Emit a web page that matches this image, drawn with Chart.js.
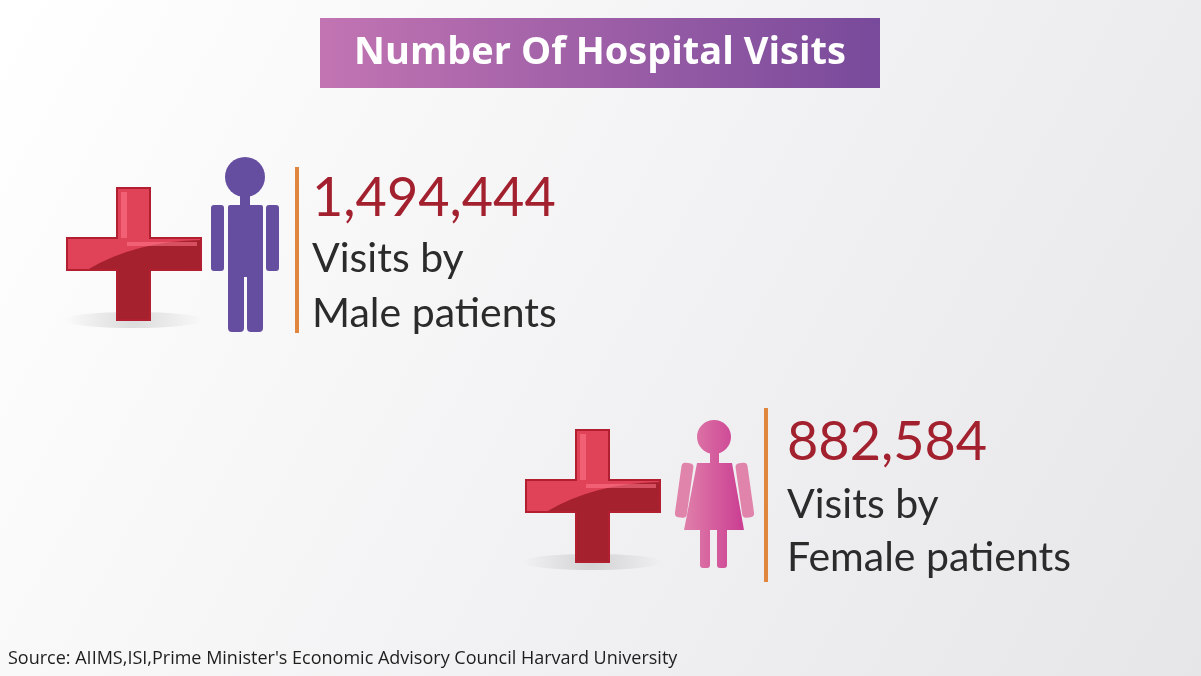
<!DOCTYPE html>
<html>
<head>
<meta charset="utf-8">
<script src="https://cdn.jsdelivr.net/npm/chart.js@4"></script>
<style>
  html, body { margin: 0; padding: 0; background: #f4f4f5; }
  #myChart { display: block; }
</style>
</head>
<body>
<canvas id="myChart" width="1201" height="676"></canvas>
<script>
const categories = ['Male patients', 'Female patients'];
const visits = [1494444, 882584];
const titleText = 'Number Of Hospital Visits';
const sourceText = "Source: AIIMS,ISI,Prime Minister's Economic Advisory Council Harvard University";

// panel anchors: [crossLeft, crossTop, figure, lineX, lineTop, lineBottom]
const panels = [
    {cx: 67, cy: 188, fig: 'male', lineX: 297, lineTop: 167, lineBottom: 333, textX: 312, textY: [216, 272, 327]},
    {cx: 526, cy: 430, fig: 'female', lineX: 766, lineTop: 408, lineBottom: 582, textX: 787, textY: [460, 518, 571]}
];

function drawCross(ctx, x, y) {
    // shadow
    const sh = ctx.createRadialGradient(x + 66, y + 132, 2, x + 66, y + 132, 70);
    sh.addColorStop(0, 'rgba(0,0,0,0.12)');
    sh.addColorStop(1, 'rgba(0,0,0,0)');
    ctx.save();
    ctx.translate(0, 0);
    ctx.fillStyle = sh;
    ctx.beginPath();
    ctx.ellipse(x + 66, y + 132, 70, 8, 0, 0, Math.PI * 2);
    ctx.fill();
    ctx.restore();

    const path = new Path2D();
    path.moveTo(x + 50, y);
    path.lineTo(x + 83, y);
    path.lineTo(x + 83, y + 50);
    path.lineTo(x + 134, y + 50);
    path.lineTo(x + 134, y + 82);
    path.lineTo(x + 83, y + 82);
    path.lineTo(x + 83, y + 132);
    path.lineTo(x + 50, y + 132);
    path.lineTo(x + 50, y + 82);
    path.lineTo(x, y + 82);
    path.lineTo(x, y + 50);
    path.lineTo(x + 50, y + 50);
    path.closePath();

    ctx.save();
    ctx.fillStyle = '#a5212e';
    ctx.fill(path);
    ctx.clip(path);
    // lighter upper-left part with curved edge
    ctx.beginPath();
    ctx.moveTo(x, y);
    ctx.lineTo(x + 140, y);
    ctx.lineTo(x + 140, y + 52);
    ctx.quadraticCurveTo(x + 70, y + 52, x + 20, y + 82);
    ctx.lineTo(x, y + 82);
    ctx.closePath();
    ctx.fillStyle = '#e04357';
    ctx.fill();
    ctx.fillStyle = 'rgba(255,120,140,0.55)';
    ctx.fillRect(x + 54, y + 4, 6, 46);
    ctx.fillRect(x + 60, y + 54, 70, 4);
    ctx.restore();
    ctx.strokeStyle = '#b11f30';
    ctx.lineWidth = 2;
    ctx.stroke(path);
}

function roundRect(ctx, x, y, w, h, r) {
    ctx.beginPath();
    ctx.roundRect(x, y, w, h, r);
    ctx.fill();
}

function drawMale(ctx) {
    ctx.fillStyle = '#654ea0';
    ctx.beginPath();
    ctx.arc(245, 177, 20, 0, Math.PI * 2);
    ctx.fill();
    ctx.fillRect(240, 194, 10, 14);
    roundRect(ctx, 228, 205, 35, 72, 2);
    roundRect(ctx, 211, 205, 13, 66, 3);
    roundRect(ctx, 266, 205, 13, 66, 3);
    roundRect(ctx, 228, 270, 16, 62, 4);
    roundRect(ctx, 247, 270, 16, 62, 4);
}

function drawFemale(ctx) {
    const g = ctx.createLinearGradient(680, 0, 748, 0);
    g.addColorStop(0, '#e184ac');
    g.addColorStop(1, '#c93890');
    ctx.fillStyle = g;
    ctx.beginPath();
    ctx.arc(714, 437, 17, 0, Math.PI * 2);
    ctx.fill();
    ctx.fillRect(710, 450, 9, 15);
    ctx.beginPath();
    ctx.moveTo(697, 463);
    ctx.lineTo(732, 463);
    ctx.lineTo(744, 530);
    ctx.lineTo(684, 530);
    ctx.closePath();
    ctx.fill();
    ctx.save();
    ctx.translate(688, 463);
    ctx.rotate(0.14);
    roundRect(ctx, -6, 0, 12, 55, 4);
    ctx.restore();
    ctx.save();
    ctx.translate(741, 463);
    ctx.rotate(-0.14);
    roundRect(ctx, -6, 0, 12, 55, 4);
    ctx.restore();
    roundRect(ctx, 700, 525, 10, 43, 3);
    roundRect(ctx, 717, 525, 10, 43, 3);
}

const infographic = {
    id: 'infographic',
    beforeDraw(chart) {
        const ctx = chart.ctx;
        const bg = ctx.createLinearGradient(0, 0, 1201, 676);
        bg.addColorStop(0, '#ffffff');
        bg.addColorStop(1, '#e6e6e9');
        ctx.fillStyle = bg;
        ctx.fillRect(0, 0, 1201, 676);
    },
    afterDraw(chart) {
        const ctx = chart.ctx;
        ctx.save();
        // title
        const tg = ctx.createLinearGradient(320, 0, 880, 0);
        tg.addColorStop(0, '#c274b2');
        tg.addColorStop(1, '#784a9b');
        ctx.fillStyle = tg;
        ctx.fillRect(320, 18, 560, 70);
        ctx.fillStyle = '#ffffff';
        ctx.font = 'bold 38px "Open Sans"';
        ctx.textAlign = 'center';
        ctx.textBaseline = 'middle';
        ctx.fillText(titleText, 600, 53);

        const values = chart.data.datasets[0].data;
        chart.data.labels.forEach((label, i) => {
            const p = panels[i];
            drawCross(ctx, p.cx, p.cy);
            if (p.fig === 'male') drawMale(ctx); else drawFemale(ctx);
            ctx.fillStyle = '#e0863f';
            ctx.fillRect(p.lineX - 2, p.lineTop, 4, p.lineBottom - p.lineTop);
            ctx.textAlign = 'left';
            ctx.textBaseline = 'alphabetic';
            ctx.fillStyle = '#a3212f';
            ctx.font = '54px Lato';
            ctx.fillText(values[i].toLocaleString('en-US'), p.textX, p.textY[0]);
            ctx.fillStyle = '#2b2b2b';
            ctx.font = '41px Lato';
            ctx.fillText('Visits by', p.textX, p.textY[1]);
            ctx.fillText(label, p.textX, p.textY[2]);
        });

        ctx.fillStyle = '#1e1e1e';
        ctx.font = '18px "Open Sans"';
        ctx.textAlign = 'left';
        ctx.fillText(sourceText, 8, 664);
        ctx.restore();
    }
};

new Chart(document.getElementById('myChart'), {
    type: 'bar',
    data: {
        labels: categories,
        datasets: [
            {
                label: 'Visits',
                data: visits,
                backgroundColor: 'rgba(0,0,0,0)',
            },
        ],
    },
    options: {
        responsive: false,
        animation: false,
        devicePixelRatio: 1,
        events: [],
        scales: {x: {display: false}, y: {display: false}},
        plugins: {legend: {display: false}, tooltip: {enabled: false}},
    },
    plugins: [infographic],
});
</script>
</body>
</html>
